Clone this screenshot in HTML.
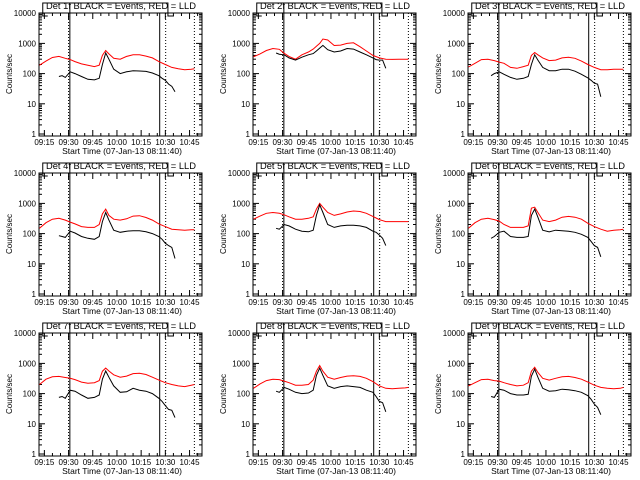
<!DOCTYPE html>
<html><head><meta charset="utf-8"><style>
html,body{margin:0;padding:0;background:#fff;width:640px;height:480px;overflow:hidden}
svg{display:block;font-family:"Liberation Sans",sans-serif}
</style></head><body>
<svg id="chart" width="640" height="480" viewBox="0 0 640 480"></svg>
<script>
const panelNames = ["1f","2f","3f","4f","5f","6f","7f","8f","9f"];
const redTimes = [12,16,20,24,28,31,34,38,42,46,49,51,53,55,58,62,66,70,74,78,82,86,90,94,98,102,106,108];
const blackTimes = [24,26,28,31,34,38,42,46,49,51,53,55,58,62,66,70,74,78,82,86,88,90,92,94,96];
const red1 = [190,260,340,370,320,290,250,210,190,170,190,400,580,450,320,300,370,420,420,380,330,250,200,160,145,135,140,145];
const black1 = [80,85,75,115,100,80,65,62,70,200,480,300,140,100,115,125,122,118,105,85,70,60,45,38,25];
const red2 = [360,450,580,680,640,470,370,300,420,520,650,800,1000,1400,1300,850,880,1000,1050,780,560,400,330,300,295,300,300,300];
const black2 = [null,480,440,420,330,280,350,420,460,560,700,860,620,520,560,680,650,520,420,330,290,280,280,150,null];
const red3 = [165,220,290,300,270,240,220,160,150,170,190,400,500,420,330,270,280,330,350,320,260,200,160,135,135,140,140,140];
const black3 = [null,85,100,115,95,75,65,70,80,200,420,280,160,125,125,140,140,120,95,72,60,48,45,17,null];
const red4 = [150,230,300,320,280,240,210,170,160,160,200,450,650,400,300,280,310,380,390,340,280,210,170,140,135,130,135,135];
const black4 = [85,80,75,120,105,80,70,65,80,250,500,280,130,110,120,125,125,115,100,80,65,48,40,35,15];
const red5 = [300,380,470,500,470,420,360,300,300,320,360,650,1000,750,500,400,450,520,560,540,470,370,290,250,250,250,250,250];
const black5 = [null,150,140,200,180,140,120,115,130,400,900,500,200,160,180,190,190,180,160,120,110,90,70,40,null];
const red6 = [150,230,300,320,290,260,200,160,160,160,180,700,750,500,280,250,280,350,370,350,300,220,170,140,120,130,135,140];
const black6 = [null,70,80,110,120,80,75,75,80,400,650,350,130,115,130,125,120,110,95,75,55,40,35,17,null];
const red7 = [200,300,360,370,340,320,290,240,220,230,270,550,700,560,420,350,380,460,470,430,350,280,230,200,180,170,190,200];
const black7 = [75,80,70,130,120,90,70,75,90,300,560,350,180,110,115,150,130,120,100,70,55,40,30,28,16];
const red8 = [150,210,270,300,290,260,230,190,190,200,280,550,850,550,350,300,340,380,390,370,320,250,180,150,145,150,155,160];
const black8 = [null,120,110,160,140,110,100,105,130,400,700,400,180,150,170,180,170,160,130,110,80,55,50,25,null];
const red9 = [180,230,290,300,270,260,230,200,180,190,230,550,750,500,320,280,320,360,370,340,300,240,190,160,150,145,150,160];
const black9 = [null,80,75,140,130,100,90,90,95,380,650,350,150,120,125,140,135,125,110,85,65,45,35,20,null];
const redSeries = [red1,red2,red3,red4,red5,red6,red7,red8,red9];
const blackSeries = [black1,black2,black3,black4,black5,black6,black7,black8,black9];
const xTickMinutes = [15,30,45,60,75,90,105];
const xTickLabels = ["09:15","09:30","09:45","10:00","10:15","10:30","10:45"];
const yTickValues = [1,10,100,1000,10000];
const yTickLabels = ["1","10","100","1000","10000"];

const NS="http://www.w3.org/2000/svg";
const svg=document.getElementById('chart');
function mk(tag,attrs,parent){const e=document.createElementNS(NS,tag);for(const k in attrs)e.setAttribute(k,attrs[k]);(parent||svg).appendChild(e);return e;}
const colX=[39,253,468], rowY=[0,160,320];
const W=163, T0=11.67, PPM=1.613;
const boxTop=13, boxBot=136;
for(let p=0;p<9;p++){
  const L=colX[p%3], oy=rowY[Math.floor(p/3)];
  const g=mk('g',{});
  
  
  const xs=t=>L+(t-T0)*PPM;
  const ys=v=>oy+134-Math.log10(v)*30.2;
  // box
  const box=mk('rect',{x:L,y:oy+boxTop,width:W,height:boxBot-boxTop,fill:'none',stroke:'#000','stroke-width':1},g);
  
  
  // y ticks
  for(let d=0;d<5;d++){
    const y=ys(yTickValues[d]);
    mk('line',{x1:L,x2:L+6,y1:y,y2:y,stroke:'#000'},g);
    mk('line',{x1:L+W-6,x2:L+W,y1:y,y2:y,stroke:'#000'},g);
    const tl=mk('text',{x:L-3,y:y+3,'font-size':8,'text-anchor':'end'},g);
    tl.textContent=yTickLabels[d];
    
    
    if(d<4)for(let m=2;m<10;m++){const yy=ys(yTickValues[d]*m);
      mk('line',{x1:L,x2:L+3,y1:yy,y2:yy,stroke:'#000'},g);
      mk('line',{x1:L+W-3,x2:L+W,y1:yy,y2:yy,stroke:'#000'},g);}
  }
  // x ticks
  for(let t=15;t<=110;t+=5){const x=xs(t);const maj=(t%15===0);const len=maj?6:3;
    mk('line',{x1:x,x2:x,y1:oy+boxBot,y2:oy+boxBot-len,stroke:'#000'},g);
    mk('line',{x1:x,x2:x,y1:oy+boxTop,y2:oy+boxTop+len,stroke:'#000'},g);}
  for(let i=0;i<xTickMinutes.length;i++){
    const tl=mk('text',{x:xs(xTickMinutes[i]),y:oy+145,'font-size':8,'text-anchor':'middle'},g);
    tl.textContent=xTickLabels[i];
    
    
  }
  const xt=mk('text',{x:L+83,y:oy+154,'font-size':8.5,'text-anchor':'middle'},g);
  xt.textContent='Start Time (07-Jan-13 08:11:40)';
  
  
  const yt=mk('text',{x:0,y:0,'font-size':8,'text-anchor':'middle',transform:`translate(${L-27},${oy+74}) rotate(-90)`},g);
  yt.textContent='Counts/sec';
  
  
  // markers
  mk('line',{x1:xs(30),x2:xs(30),y1:oy+boxTop,y2:oy+boxBot,stroke:'#000','stroke-dasharray':'1,2'},g);
  mk('line',{x1:xs(30.8),x2:xs(30.8),y1:oy+3,y2:oy+boxBot,stroke:'#000'},g);
  mk('line',{x1:xs(86.5),x2:xs(86.5),y1:oy+boxTop,y2:oy+boxBot,stroke:'#000'},g);
  mk('line',{x1:xs(90.2),x2:xs(90.2),y1:oy+boxTop,y2:oy+boxBot,stroke:'#000','stroke-dasharray':'1,2'},g);
  mk('line',{x1:xs(108),x2:xs(108),y1:oy+boxTop,y2:oy+boxBot,stroke:'#000','stroke-dasharray':'1,2'},g);
  const a=xs(14),b=xs(91.6);
  mk('polyline',{points:`${a+5},${oy+16} ${a},${oy+16} ${a},${oy+3} ${b},${oy+3} ${b},${oy+16} ${b+6},${oy+16}`,fill:'none',stroke:'#000'},g);
  const title=mk('text',{x:L+82,y:oy+9,'font-size':9.5,'text-anchor':'middle',textLength:150,lengthAdjust:'spacingAndGlyphs'},g);
  title.textContent='Det '+panelNames[p]+' BLACK = Events, RED = LLD';
  
  
  // series
  let pts=redSeries[p].map((v,i)=>xs(redTimes[i]).toFixed(1)+','+ys(v).toFixed(1)).join(' ');
  const rl=mk('polyline',{points:pts,fill:'none',stroke:'#ff0000','stroke-width':1},g);
  
  
  const bp=[];blackSeries[p].forEach((v,i)=>{if(v!==null)bp.push(xs(blackTimes[i]).toFixed(1)+','+ys(v).toFixed(1));});
  const bl=mk('polyline',{points:bp.join(' '),fill:'none',stroke:'#000','stroke-width':1},g);
  
  
}
</script>
</body></html>
